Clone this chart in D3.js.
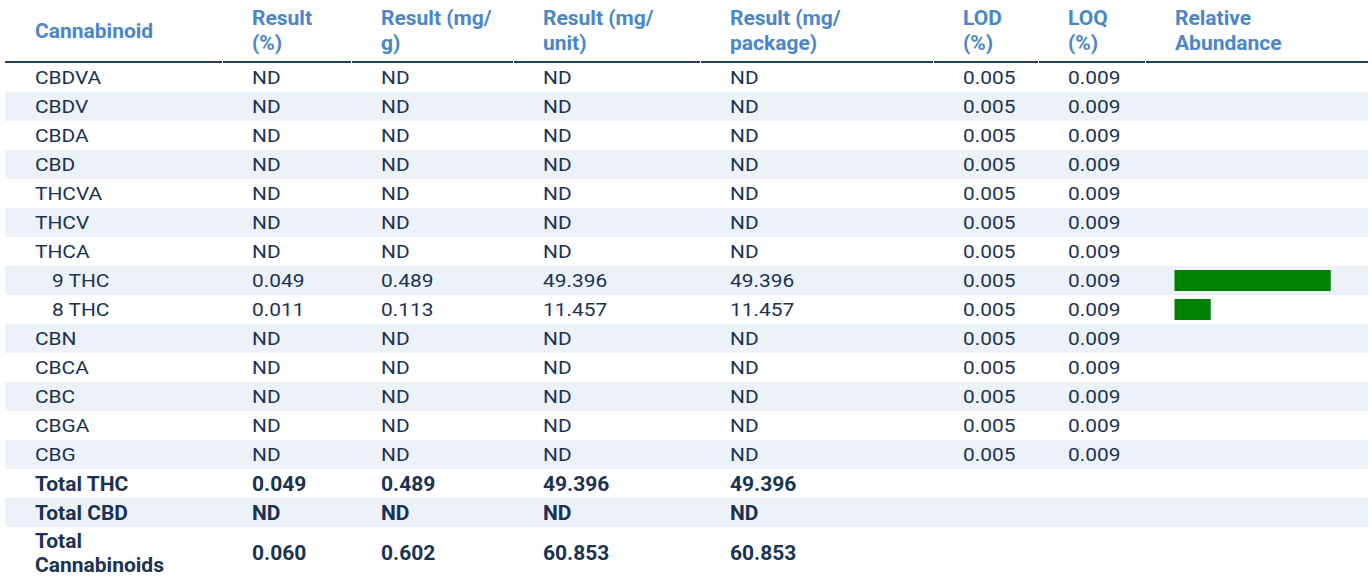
<!DOCTYPE html>
<html>
<head>
<title>Cannabinoid Results</title>
<script src="https://d3js.org/d3.v7.min.js"></script>
<style>
  body {margin: 0; background: #fff;}
  svg text {font-family: Roboto, "Open Sans", sans-serif; font-size: 18px;}
  svg text.big {font-size: 21px; font-weight: bold;}
</style>
</head>
<body>
<svg id="chart" width="1372" height="580"></svg>
<script>
// column headers (each one may break on two lines)
var headers = [["Cannabinoid"], ["Result", "(%)"], ["Result (mg/", "g)"], ["Result (mg/", "unit)"],
               ["Result (mg/", "package)"], ["LOD", "(%)"], ["LOQ", "(%)"], ["Relative", "Abundance"]];

var names    = ["CBDVA", "CBDV", "CBDA", "CBD", "THCVA", "THCV", "THCA", "9 THC", "8 THC", "CBN", "CBCA", "CBC", "CBGA", "CBG"];
var pct      = ["ND", "ND", "ND", "ND", "ND", "ND", "ND", "0.049", "0.011", "ND", "ND", "ND", "ND", "ND"];
var mgPerG   = ["ND", "ND", "ND", "ND", "ND", "ND", "ND", "0.489", "0.113", "ND", "ND", "ND", "ND", "ND"];
var mgUnit   = ["ND", "ND", "ND", "ND", "ND", "ND", "ND", "49.396", "11.457", "ND", "ND", "ND", "ND", "ND"];
var mgPack   = ["ND", "ND", "ND", "ND", "ND", "ND", "ND", "49.396", "11.457", "ND", "ND", "ND", "ND", "ND"];
var lod      = ["0.005", "0.005", "0.005", "0.005", "0.005", "0.005", "0.005", "0.005", "0.005", "0.005", "0.005", "0.005", "0.005", "0.005"];
var loq      = ["0.009", "0.009", "0.009", "0.009", "0.009", "0.009", "0.009", "0.009", "0.009", "0.009", "0.009", "0.009", "0.009", "0.009"];

var totalNames = [["Total THC"], ["Total CBD"], ["Total", "Cannabinoids"]];
var totalPct   = ["0.049", "ND", "0.060"];
var totalMgG   = ["0.489", "ND", "0.602"];
var totalUnit  = ["49.396", "ND", "60.853"];
var totalPack  = ["49.396", "ND", "60.853"];

var svg = d3.select("#chart");
var navy = "#1b3352", blue = "#4a86c8", stripe = "#edf1f8";

// column edges
var edges = [5, 222, 351, 513, 700, 933, 1038, 1145, 1368];
var pad = 30;
var colX = edges.slice(0, -1).map(e => e + pad);

var rowH = 29;
var yRow = d3.scaleLinear().domain([0, 1]).range([63, 63 + rowH]);

// header text
headers.forEach(function(h, i) {
  var t = svg.append("text").attr("class", "big").attr("x", colX[i]).attr("fill", blue);
  if (h.length == 1) {
    t.attr("y", 38).text(h[0]);
  } else {
    h.forEach(function(line, j) {
      t.append("tspan").attr("x", colX[i]).attr("y", 25 + j * 25).text(line);
    });
  }
});

// header rule, one piece per cell
for (var i = 0; i < edges.length - 1; i++) {
  svg.append("rect").attr("x", edges[i] + (i ? 1 : 0)).attr("y", 61)
     .attr("width", edges[i + 1] - edges[i] - (i ? 1 : 0)).attr("height", 2).attr("fill", "#24405f");
}

// stripes
var allRows = names.length + totalNames.length;
for (var r = 0; r < allRows; r++) {
  if (r % 2 == 1) {
    svg.append("rect").attr("x", edges[0]).attr("y", yRow(r))
       .attr("width", edges[edges.length - 1] - edges[0]).attr("height", rowH).attr("fill", stripe);
  }
}

// body rows (regular text is drawn a bit wide)
var cols = [names, pct, mgPerG, mgUnit, mgPack, lod, loq];
names.forEach(function(n, r) {
  var base = yRow(r) + rowH / 2 + 6.5;
  cols.forEach(function(c, i) {
    var indent = (i == 0 && /^\d/.test(c[r])) ? 17 : 0;
    svg.append("text")
       .attr("transform", "translate(" + (colX[i] + indent) + "," + base + ") scale(1.16,1)")
       .attr("fill", navy).text(c[r]);
  });
});

// relative abundance bars
var total = +totalUnit[2];
var xBar = d3.scaleLinear().domain([0, total]).range([0, edges[8] - colX[7] - 0.5]);
svg.selectAll("rect.bar")
  .data(mgUnit.map((v, r) => ({v: v, r: r})).filter(d => d.v != "ND"))
  .enter().append("rect")
  .attr("class", "bar")
  .attr("x", colX[7] - 0.5)
  .attr("y", d => yRow(d.r) + 4)
  .attr("width", d => xBar(+d.v))
  .attr("height", 21)
  .attr("fill", "#008000");

// totals
var tcols = [totalPct, totalMgG, totalUnit, totalPack];
totalNames.forEach(function(n, k) {
  var r = names.length + k;
  var base = yRow(r) + rowH / 2 + 7;
  if (n.length == 2) base = yRow(r) + 33;
  var t = svg.append("text").attr("class", "big").attr("x", colX[0]).attr("fill", navy);
  if (n.length == 1) t.attr("y", base).text(n[0]);
  else n.forEach(function(line, j) {
    t.append("tspan").attr("x", colX[0]).attr("y", base - 12 + j * 24).text(line);
  });
  tcols.forEach(function(c, i) {
    svg.append("text").attr("class", "big").attr("x", colX[i + 1]).attr("y", base)
       .attr("fill", navy).text(c[k]);
  });
});
</script>
</body>
</html>
